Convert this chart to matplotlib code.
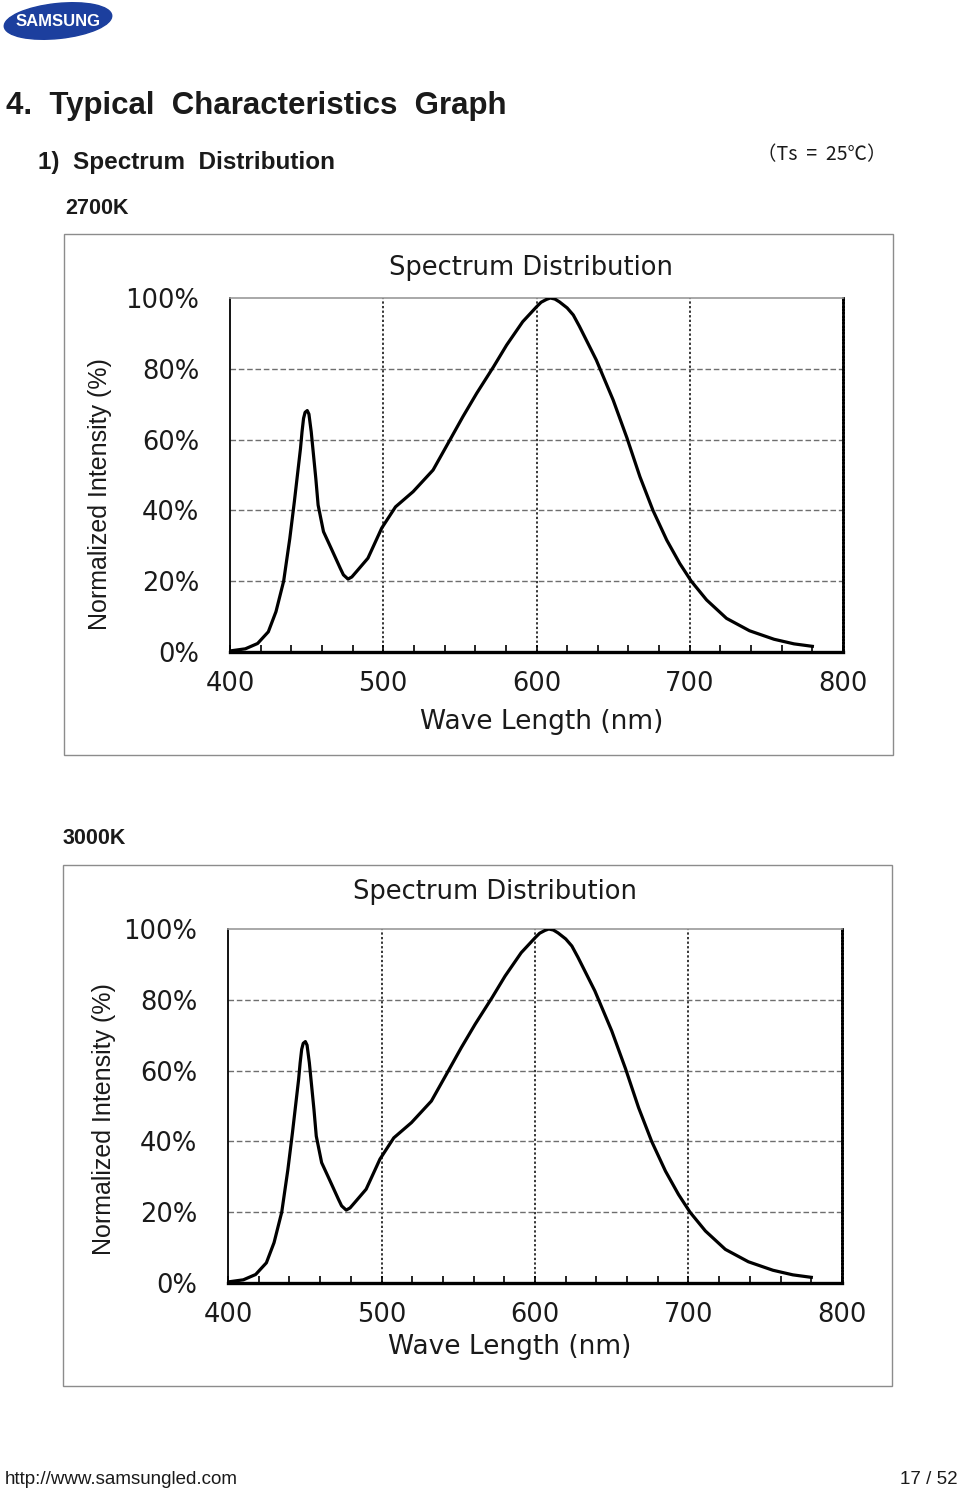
import matplotlib
matplotlib.use("Agg")
import matplotlib.pyplot as plt
from matplotlib.patches import Ellipse, Rectangle
from matplotlib.ticker import MultipleLocator, FuncFormatter

# spectrum (wavelength nm, normalized intensity %)
wavelength = [400, 410, 418, 425, 430, 435, 439, 442, 444, 446, 447, 448, 449,
              450.4, 451.5, 453, 454.5, 456, 457.5, 461, 466, 472, 474, 477,
              479.5, 482.5, 490, 499, 508, 519.5, 532.5, 543.5, 552, 561, 572,
              580.5, 591, 600, 603, 606.5, 609, 612, 615, 620, 624, 628, 639,
              650, 659, 667.5, 676, 685, 693.5, 701, 711, 724, 739, 755, 768,
              780]
intensity_2700k = [0.3, 0.9, 2.4, 5.7, 11.4, 20, 32, 42.5, 50, 57.5, 62.2, 66,
                   67.7, 68.2, 67.2, 62.2, 55.6, 49, 41.5, 34, 29.3, 23.6,
                   21.8, 20.6, 21.2, 22.7, 26.5, 35, 41, 45.3, 51.4, 59.9, 66.5,
                   73.1, 80.6, 86.7, 93.3, 97.5, 98.8, 99.6, 100, 99.7, 98.9,
                   97.2, 95.2, 92, 82.5, 71.2, 60.5, 49.5, 40, 31.6, 25, 20,
                   14.7, 9.5, 6, 3.6, 2.3, 1.6]
intensity_3000k = [0.3, 0.9, 2.4, 5.7, 11.4, 20, 32, 42.5, 50, 57.5, 62.2, 66,
                   67.7, 68.2, 67.2, 62.2, 55.6, 49, 41.5, 34, 29.3, 23.6,
                   21.8, 20.6, 21.2, 22.7, 26.5, 35, 41, 45.3, 51.4, 59.9, 66.5,
                   73.1, 80.6, 86.7, 93.3, 97.5, 98.8, 99.6, 100, 99.7, 98.9,
                   97.2, 95.2, 92, 82.5, 71.2, 60.5, 49.5, 40, 31.6, 25, 20,
                   14.7, 9.5, 6, 3.6, 2.3, 1.6]

x_ticks = [400, 500, 600, 700, 800]
y_ticks = [0, 20, 40, 60, 80, 100]

W, H = 960, 1489
TXT = "#1a1a1a"
ARIAL = ["Liberation Sans", "DejaVu Sans"]

fig = plt.figure(figsize=(W / 100, H / 100), dpi=100)

# page overlay in pixel coordinates (logo, headings, chart frames)
page = fig.add_axes([0, 0, 1, 1])
page.set_xlim(0, W)
page.set_ylim(H, 0)
page.axis("off")

page.add_patch(Ellipse((58, 21), 108, 35, angle=-6, color="#1c3f9e"))
page.text(58, 22, "SAMSUNG", color="white", fontsize=12,
          fontweight="bold", family=ARIAL, ha="center", va="center")

page.text(6, 106, "4.  Typical  Characteristics  Graph", fontsize=22.5,
          fontweight="bold", family=ARIAL, color=TXT, va="center")
page.text(38, 163, "1)  Spectrum  Distribution", fontsize=17.5,
          fontweight="bold", family=ARIAL, color=TXT, va="center")
page.text(757, 155, "（Ts  =  25℃）", fontsize=14,
          family=["Noto Sans CJK SC", "DejaVu Sans"], color=TXT, va="center")
page.text(65, 209, "2700K", fontsize=15.5, fontweight="bold", family=ARIAL,
          color=TXT, va="center")
page.text(63, 839, "3000K", fontsize=15.5, fontweight="bold", family=ARIAL,
          color=TXT, va="center")
page.text(5, 1479, "http://www.samsungled.com", fontsize=13.5, family=ARIAL,
          color=TXT, va="center")
page.text(958, 1479, "17 / 52", fontsize=13.5, family=ARIAL, color=TXT,
          va="center", ha="right")

for (x0, y0, x1, y1) in [(64, 234, 893, 755), (63, 865, 892, 1386)]:
    page.add_patch(Rectangle((x0, y0), x1 - x0, y1 - y0, fill=False,
                             edgecolor="#8c8c8c", linewidth=1.0))


def spectrum_chart(rect, values, title_xy, xlabel_xy, ylabel_xy):
    ax = fig.add_axes(rect)
    ax.plot(wavelength, values, color="black", linewidth=2.3,
            solid_joinstyle="round", zorder=3)
    ax.set_xlim(400, 800)
    ax.set_ylim(0, 100)
    ax.set_xticks(x_ticks)
    ax.set_yticks(y_ticks)
    ax.xaxis.set_minor_locator(MultipleLocator(20))
    ax.yaxis.set_major_formatter(FuncFormatter(lambda v, p: f"{v:.0f}%"))

    ax.tick_params(axis="x", which="both", direction="in", length=5,
                   width=1.2, color="black", pad=14, labelsize=18.5,
                   labelcolor=TXT)
    ax.tick_params(axis="y", which="both", direction="in", length=0,
                   pad=22, labelsize=18.5, labelcolor=TXT)

    for v in x_ticks[1:-1]:
        ax.axvline(v, color="black", linewidth=1.1, linestyle=(0, (1.5, 1.5)),
                   zorder=1)
    for v in y_ticks[1:-1]:
        ax.axhline(v, color="#6e6e6e", linewidth=1.0, linestyle=(0, (4, 2)),
                   zorder=1)

    ax.spines["left"].set_linewidth(1.3)
    ax.spines["bottom"].set_linewidth(2.4)
    ax.spines["top"].set_color("#9a9a9a")
    ax.spines["top"].set_linewidth(1.2)
    ax.spines["right"].set_linestyle((0, (0.6, 0.6)))
    ax.spines["right"].set_linewidth(2.0)

    ax.text(*title_xy, "Spectrum Distribution", transform=ax.transAxes,
            ha="center", va="center", fontsize=18.5, color=TXT)
    ax.text(*xlabel_xy, "Wave Length (nm)", transform=ax.transAxes,
            ha="center", va="center", fontsize=19, color=TXT)
    ax.text(*ylabel_xy, "Normalized Intensity (%)", transform=ax.transAxes,
            ha="center", va="center", rotation=90, fontsize=18,
            family=ARIAL, color=TXT)
    return ax


spectrum_chart([230 / W, 1 - 652 / H, 613 / W, 354 / H], intensity_2700k,
               (0.491, 1.085), (0.509, -0.198), (-0.212, 0.446))
spectrum_chart([228 / W, 1 - 1283 / H, 614 / W, 354 / H], intensity_3000k,
               (0.435, 1.105), (0.458, -0.181), (-0.202, 0.463))

fig.savefig("out.png", dpi=100)
